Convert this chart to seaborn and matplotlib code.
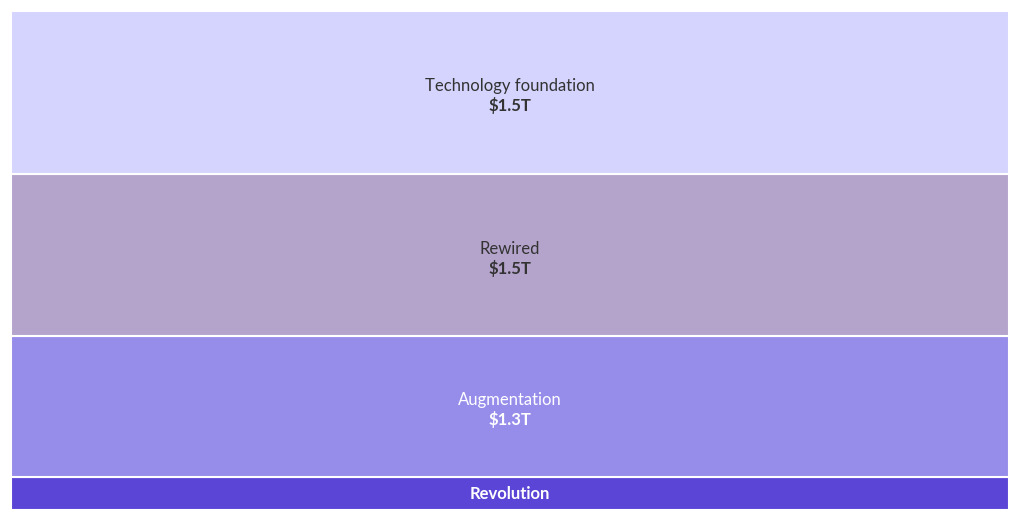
import matplotlib
matplotlib.use("Agg")
import matplotlib.pyplot as plt
import seaborn as sns

sns.set_theme(style="white")
plt.rcParams["font.family"] = ["Lato", "DejaVu Sans"]

# bottom to top
segments = ["Revolution", "Augmentation", "Rewired", "Technology foundation"]
values = [0.3, 1.3, 1.5, 1.5]
value_labels = ["", "$1.3T", "$1.5T", "$1.5T"]
colors = ["#5a45d6", "#968deb", "#b4a3cb", "#d4d4fe"]
text_colors = ["white", "white", "#333333", "#333333"]

fig = plt.figure(figsize=(10.2, 5.21), dpi=100)
ax = fig.add_axes([11 / 1020, 11 / 521, 998 / 1020, 499 / 521])

bottom = 0.0
for seg, val, vlab, col, tcol in zip(segments, values, value_labels, colors, text_colors):
    sns.barplot(x=[0], y=[val], bottom=bottom, color=col, width=1.0,
                edgecolor="white", linewidth=1.5, ax=ax, saturation=1)
    mid = bottom + val / 2
    if vlab:
        ax.text(0, mid + 0.06, seg, ha="center", va="center", fontsize=12, color=tcol)
        ax.text(0, mid - 0.12, vlab, ha="center", va="center", fontsize=12,
                fontweight="bold", color=tcol)
    else:
        ax.text(0, mid, seg, ha="center", va="center", fontsize=12,
                fontweight="bold", color=tcol)
    bottom += val

ax.set_xlim(-0.5, 0.5)
ax.set_ylim(0, bottom)
ax.axis("off")
fig.savefig("out.png", dpi=100)
